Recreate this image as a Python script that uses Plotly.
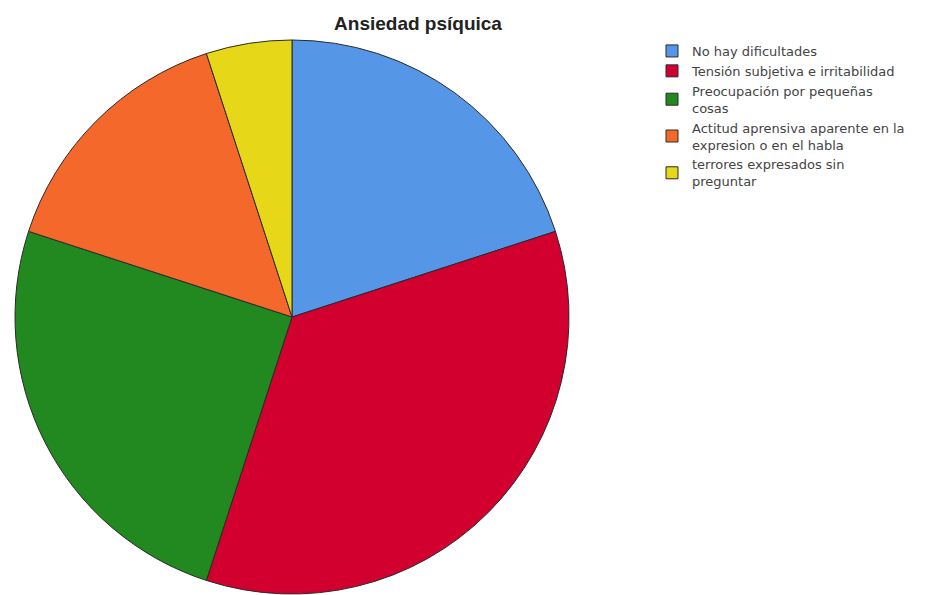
import plotly.graph_objects as go

labels = [
    "No hay dificultades",
    "Tensión subjetiva e irritabilidad",
    "Preocupación por pequeñas<br>cosas",
    "Actitud aprensiva aparente en la<br>expresion o en el habla",
    "terrores expresados sin<br>preguntar",
]
values = [4, 7, 5, 3, 1]
colors = ["#5596e6", "#d2002f", "#21891f", "#f4692b", "#e6d818"]

W, H = 929, 595
cx, cy, r = 292, 317, 277

fig = go.Figure(go.Pie(
    labels=labels,
    values=values,
    marker=dict(colors=colors, line=dict(color="#2a2a2a", width=1)),
    sort=False,
    direction="clockwise",
    rotation=0,
    textinfo="none",
    hoverinfo="label+value+percent",
    domain=dict(x=[(cx - r) / W, (cx + r) / W], y=[(H - cy - r) / H, (H - cy + r) / H]),
))

fig.update_layout(
    width=W, height=H,
    margin=dict(l=0, r=0, t=0, b=0),
    paper_bgcolor="white",
    title=dict(text="<b>Ansiedad psíquica</b>", x=418 / W, xanchor="center",
               y=1 - 23 / H, yanchor="middle",
               font=dict(family="Liberation Sans, Arial", size=19, color="#222")),
    legend=dict(x=652 / W, xanchor="left", y=1 - 36 / H, yanchor="top",
                font=dict(family="DejaVu Sans", size=13, color="#444"),
                tracegroupgap=0, itemwidth=30, bgcolor="rgba(0,0,0,0)"),
)

fig.write_html("out.html")
